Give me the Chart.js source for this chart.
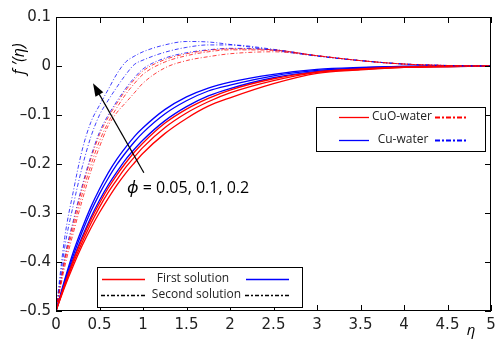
<!DOCTYPE html>
<html lang="en">
<head>
<meta charset="UTF-8">
<title>f'(eta) – first and second solutions</title>
<script src="https://cdn.jsdelivr.net/npm/chart.js"></script>
<style>
    html, body { margin: 0; padding: 0; background: #fff; }
    #wrap { width: 495px; height: 342px; }
</style>
</head>
<body>
<div id="wrap"><canvas id="chart" width="495" height="342"></canvas></div>
<script>
    // eta grid shared by all curves
    const eta = [0, 0.1, 0.2, 0.3, 0.4, 0.5, 0.6, 0.7, 0.8, 0.9, 1.0, 1.25, 1.5, 1.75, 2.0, 2.5, 3.0, 3.5, 4.0, 4.5, 5.0];

    // first solution (solid)
    const cuFirst20  = [-0.5, -0.436, -0.379, -0.331, -0.288, -0.251, -0.218, -0.190, -0.166, -0.144, -0.126, -0.089, -0.063, -0.045, -0.033, -0.017, -0.007, -0.003, -0.001, 0, 0];
    const cuFirst10  = [-0.5, -0.439, -0.386, -0.339, -0.297, -0.261, -0.229, -0.201, -0.177, -0.155, -0.136, -0.098, -0.071, -0.051, -0.039, -0.020, -0.009, -0.004, -0.001, 0, 0];
    const cuFirst05  = [-0.5, -0.443, -0.393, -0.349, -0.309, -0.274, -0.243, -0.216, -0.191, -0.170, -0.151, -0.112, -0.083, -0.061, -0.046, -0.024, -0.011, -0.005, -0.002, -0.001, 0];
    const cuoFirst20 = [-0.5, -0.445, -0.396, -0.353, -0.314, -0.280, -0.249, -0.222, -0.198, -0.176, -0.157, -0.117, -0.088, -0.066, -0.049, -0.026, -0.012, -0.006, -0.002, -0.001, 0];
    const cuoFirst10 = [-0.5, -0.448, -0.401, -0.360, -0.322, -0.288, -0.258, -0.232, -0.207, -0.186, -0.166, -0.126, -0.096, -0.073, -0.055, -0.030, -0.013, -0.007, -0.003, -0.001, 0];
    const cuoFirst05 = [-0.5, -0.451, -0.407, -0.367, -0.331, -0.299, -0.270, -0.243, -0.219, -0.198, -0.178, -0.138, -0.107, -0.082, -0.065, -0.036, -0.015, -0.008, -0.003, -0.001, 0];

    // second solution (dash-dot)
    const cuSecond20  = [-0.5, -0.350, -0.255, -0.172, -0.115, -0.080, -0.048, -0.016, 0.008, 0.020, 0.029, 0.043, 0.050, 0.049, 0.044, 0.032, 0.020, 0.011, 0.004, 0.001, 0];
    const cuSecond10  = [-0.5, -0.370, -0.283, -0.207, -0.145, -0.100, -0.070, -0.043, -0.018, 0.003, 0.012, 0.028, 0.038, 0.043, 0.043, 0.034, 0.021, 0.011, 0.004, 0.001, 0];
    const cuSecond05  = [-0.5, -0.390, -0.315, -0.245, -0.185, -0.135, -0.100, -0.072, -0.046, -0.024, -0.006, 0.016, 0.027, 0.033, 0.036, 0.033, 0.021, 0.011, 0.004, 0.001, 0];
    const cuoSecond20 = [-0.5, -0.395, -0.320, -0.250, -0.190, -0.140, -0.105, -0.076, -0.050, -0.028, -0.010, 0.013, 0.025, 0.032, 0.035, 0.033, 0.021, 0.011, 0.004, 0.001, 0];
    const cuoSecond10 = [-0.5, -0.400, -0.330, -0.262, -0.203, -0.153, -0.115, -0.085, -0.058, -0.036, -0.017, 0.008, 0.021, 0.029, 0.033, 0.032, 0.021, 0.011, 0.004, 0.001, 0];
    const cuoSecond05 = [-0.5, -0.410, -0.340, -0.275, -0.215, -0.165, -0.122, -0.095, -0.075, -0.055, -0.035, -0.004, 0.011, 0.019, 0.025, 0.029, 0.021, 0.011, 0.004, 0.001, 0];

    const xTicks = [0, 0.5, 1, 1.5, 2, 2.5, 3, 3.5, 4, 4.5, 5];
    const yTicks = [-0.5, -0.4, -0.3, -0.2, -0.1, 0, 0.1];

    const RED = '#ff0000', BLUE = '#0000ff';
    const DASHDOT = [4, 2, 1, 2];
    const FONT = '"Open Sans", "Noto Sans", sans-serif';
    const TICKFONT = '"DejaVu Sans", sans-serif';

    function pts(ys) {
        return eta.map((x, i) => ({ x: x, y: ys[i] }));
    }

    function solid(ys, color) {
        return { data: pts(ys), borderColor: color, borderWidth: 1.3, pointRadius: 0, cubicInterpolationMode: 'monotone', fill: false };
    }

    function dashed(ys, color) {
        return { data: pts(ys), borderColor: color, borderWidth: 1, borderDash: DASHDOT, pointRadius: 0, cubicInterpolationMode: 'monotone', fill: false };
    }

    function fmt(v) {
        const r = Math.round(v * 10) / 10;
        if (r === 0) return '0';
        return (r < 0 ? '\u2013' : '') + String(Math.abs(r));
    }

    // frame, inward ticks, legends and annotation
    const decor = {
        id: 'decor',
        afterDraw(chart) {
            const ctx = chart.ctx, a = chart.chartArea;
            const xs = chart.scales.x, ys = chart.scales.y;
            ctx.save();
            ctx.strokeStyle = '#000';
            ctx.lineWidth = 1;
            ctx.setLineDash([]);
            ctx.strokeRect(a.left + 0.5, a.top + 0.5, a.right - a.left - 1, a.bottom - a.top - 1);

            const seg = (x1, y1, x2, y2) => { ctx.beginPath(); ctx.moveTo(x1, y1); ctx.lineTo(x2, y2); ctx.stroke(); };
            const tl = 6;
            xTicks.forEach(v => {
                const px = Math.round(xs.getPixelForValue(v)) + 0.5;
                seg(px, a.bottom, px, a.bottom - tl);
                seg(px, a.top, px, a.top + tl);
            });
            yTicks.forEach(v => {
                const py = Math.round(ys.getPixelForValue(v)) + 0.5;
                seg(a.left, py, a.left + tl, py);
                seg(a.right, py, a.right - tl, py);
            });

            // axis titles
            ctx.fillStyle = '#000';
            ctx.textAlign = 'center';
            ctx.textBaseline = 'middle';
            ctx.font = 'italic 16px ' + FONT;
            ctx.save();
            ctx.translate(19, 59);
            ctx.rotate(-Math.PI / 2);
            ctx.fillText('f \u2032(\u03B7)', 0, 0);
            ctx.restore();
            ctx.font = 'italic 15px ' + FONT;
            ctx.fillText('\u03B7', 471, 331);

            // arrow and phi label
            const x0 = xs.getPixelForValue(1.01), y0 = ys.getPixelForValue(-0.218);
            const x1 = xs.getPixelForValue(0.425), y1 = ys.getPixelForValue(-0.035);
            const ang = Math.atan2(y1 - y0, x1 - x0);
            ctx.strokeStyle = '#000';
            ctx.lineWidth = 1.2;
            seg(x0, y0, x1 - 8 * Math.cos(ang), y1 - 8 * Math.sin(ang));
            ctx.beginPath();
            ctx.moveTo(x1, y1);
            ctx.lineTo(x1 - 13 * Math.cos(ang) + 4.5 * Math.sin(ang), y1 - 13 * Math.sin(ang) - 4.5 * Math.cos(ang));
            ctx.lineTo(x1 - 13 * Math.cos(ang) - 4.5 * Math.sin(ang), y1 - 13 * Math.sin(ang) + 4.5 * Math.cos(ang));
            ctx.closePath();
            ctx.fill();

            ctx.textAlign = 'left';
            const tx = xs.getPixelForValue(0.816), ty = ys.getPixelForValue(-0.249);
            ctx.font = 'italic 17px ' + FONT;
            ctx.fillText('\u03D5', tx, ty);
            const w = ctx.measureText('\u03D5').width;
            ctx.font = '16px ' + FONT;
            ctx.fillText(' = 0.05, 0.1, 0.2', tx + w, ty);

            // legend boxes
            const legLine = (xa, xb, y, color, dash, width) => {
                ctx.save();
                ctx.strokeStyle = color;
                ctx.lineWidth = width;
                ctx.setLineDash(dash);
                seg(xa, y, xb, y);
                ctx.restore();
            };
            ctx.strokeStyle = '#000';
            ctx.lineWidth = 1;
            ctx.fillStyle = '#fff';
            ctx.fillRect(316, 107, 169, 44);
            ctx.strokeRect(316.5, 107.5, 169, 44);
            ctx.fillRect(97, 267, 205, 40);
            ctx.strokeRect(97.5, 267.5, 205, 40);

            ctx.fillStyle = '#222';
            ctx.textAlign = 'center';
            ctx.font = '12px ' + FONT;
            legLine(339, 369, 117.5, RED, [], 1.3);
            ctx.fillText('CuO-water', 402, 117);
            legLine(435, 466, 117.5, RED, [5, 2, 2, 2], 2);
            legLine(339, 369, 140.5, BLUE, [], 1.3);
            ctx.fillText('Cu-water', 403, 140);
            legLine(435, 466, 140.5, BLUE, [5, 2, 2, 2], 2);

            legLine(102, 145, 279.5, RED, [], 1.4);
            ctx.fillText('First solution', 193, 279);
            legLine(246, 289, 279.5, BLUE, [], 1.4);
            legLine(101, 145, 295.5, '#000', [4, 2, 2, 2], 1.6);
            ctx.fillText('Second solution', 196.5, 295);
            legLine(245, 289, 295.5, '#000', [4, 2, 2, 2], 1.6);
            ctx.restore();
        }
    };

    const chart = new Chart(document.getElementById('chart'), {
        type: 'line',
        data: {
            datasets: [
                dashed(cuoSecond05, 'rgba(255,0,0,0.75)'),
                dashed(cuoSecond10, 'rgba(255,0,0,0.75)'),
                dashed(cuoSecond20, 'rgba(255,0,0,0.75)'),
                dashed(cuSecond05, 'rgba(0,0,255,0.75)'),
                dashed(cuSecond10, 'rgba(0,0,255,0.75)'),
                dashed(cuSecond20, 'rgba(0,0,255,0.75)'),
                solid(cuoFirst05, RED),
                solid(cuoFirst10, RED),
                solid(cuoFirst20, RED),
                solid(cuFirst05, BLUE),
                solid(cuFirst10, BLUE),
                solid(cuFirst20, BLUE)
            ]
        },
        options: {
            responsive: false,
            animation: false,
            devicePixelRatio: 1,
            layout: { padding: { top: 17, right: 4, left: 0, bottom: 0 } },
            plugins: { legend: { display: false }, tooltip: { enabled: false } },
            scales: {
                x: {
                    type: 'linear', min: 0, max: 5,
                    afterBuildTicks: s => { s.ticks = xTicks.map(v => ({ value: v })); },
                    afterFit: s => { s.height = 31; s.paddingLeft = 0; s.paddingRight = 0; },
                    grid: { display: false, drawTicks: false },
                    border: { display: false },
                    ticks: { color: '#222', padding: 5, maxRotation: 0, font: { family: TICKFONT, size: 15 }, callback: v => String(v) }
                },
                y: {
                    type: 'linear', min: -0.5, max: 0.1,
                    afterBuildTicks: s => { s.ticks = yTicks.map(v => ({ value: v })); },
                    afterFit: s => { s.width = 56; s.paddingTop = 0; s.paddingBottom = 0; },
                    grid: { display: false, drawTicks: false },
                    border: { display: false },
                    ticks: { color: '#222', padding: 5, font: { family: TICKFONT, size: 15 }, callback: v => fmt(v) }
                }
            }
        },
        plugins: [decor]
    });
</script>
</body>
</html>
